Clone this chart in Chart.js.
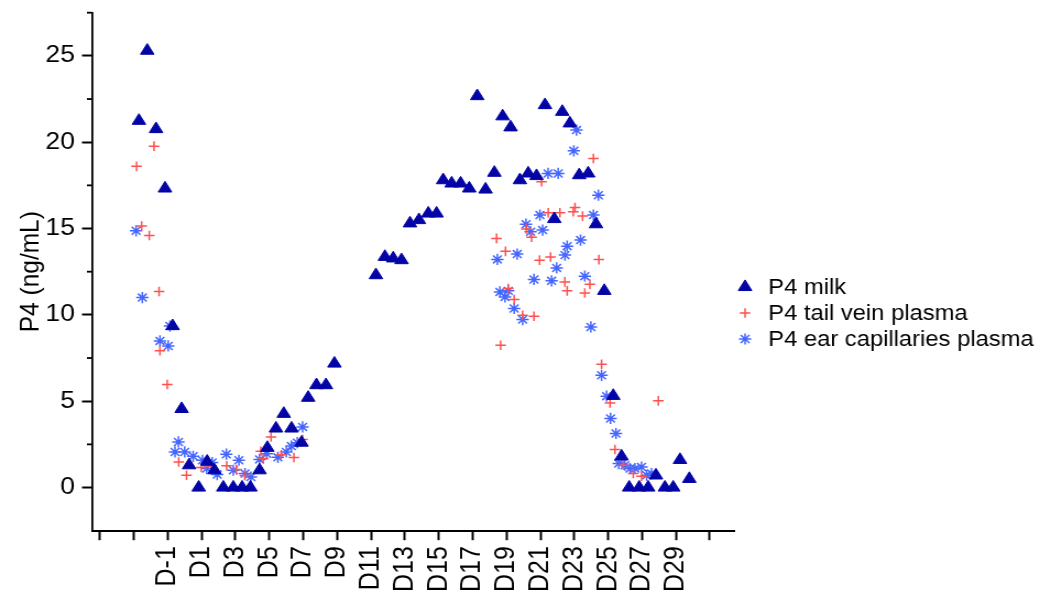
<!DOCTYPE html>
<html><head><meta charset="utf-8">
<script src="https://cdn.jsdelivr.net/npm/chart.js@4.4.1/dist/chart.umd.min.js"></script>
<style>
html,body{margin:0;padding:0;background:#fff;overflow:hidden;}
#wrap{width:945px;height:596px;transform:scaleX(1.1005291);transform-origin:0 0;}
</style></head><body>
<div id="wrap"><canvas id="c" width="945" height="596"></canvas></div>
<script>
// ---------- data (day, P4 ng/mL) ----------
const milkDays = [-2.70,-2.21,-1.69,-1.16,-0.71,-0.18,0.26,0.83,1.33,1.76,2.28,2.87,3.39,3.88,4.42,4.88,5.39,5.85,6.31,6.90,7.29,7.78,8.34,8.84,11.29,11.82,12.31,12.80,13.30,13.83,14.38,14.87,15.26,15.76,16.29,16.80,17.27,17.76,18.28,18.77,19.24,19.79,20.28,20.77,21.27,21.82,22.29,22.74,23.29,23.82,24.28,24.77,25.30,25.79,26.24,26.83,27.36,27.82,28.35,28.84,29.24,29.79];
const milkP4   = [21.24,25.3,20.76,17.32,9.35,4.55,1.29,0.0,1.5,1.0,0,0,0,0,1.0,2.3,3.42,4.27,3.42,2.6,5.2,5.93,5.93,7.18,12.3,13.36,13.27,13.17,15.3,15.49,15.87,15.87,17.8,17.61,17.61,17.32,22.67,17.26,18.23,21.5,20.86,17.8,18.19,18.04,22.15,15.55,21.76,21.09,18.09,18.19,15.25,11.39,5.31,1.8,0,0,0,0.7,0,0,1.6,0.5];

const tailDays = [-2.84,-2.54,-2.09,-1.81,-1.51,-1.46,-1.03,-0.35,0.11,0.98,1.55,2.48,3.05,3.55,4.50,4.64,5.10,5.70,6.45,6.96,18.41,18.65,18.94,19.10,19.45,19.95,20.17,20.48,20.62,20.95,21.07,21.46,21.60,22.15,22.44,22.58,22.94,23.04,23.49,23.62,23.92,24.13,24.45,24.61,25.11,25.40,25.90,26.48,26.97,27.96];
const tailP4   = [18.6,15.14,14.6,19.77,11.35,7.92,5.97,1.48,0.71,1.16,1.25,1.26,1.04,0.7,2.1,1.68,2.93,1.9,1.74,2.78,14.43,8.24,13.68,11.53,10.89,9.98,14.97,14.5,9.92,13.17,17.71,15.91,13.35,15.91,11.91,11.39,15.97,16.22,15.72,11.27,11.78,19.06,13.2,7.14,4.9,2.2,1.29,0.81,0.65,5.02];

const earDays = [-2.87,-2.50,-1.46,-0.97,-0.87,-0.57,-0.37,0.00,0.50,1.05,1.30,1.62,1.92,2.46,2.87,3.20,3.56,3.91,4.42,4.84,5.50,6.00,6.30,6.65,6.96,18.46,18.61,18.91,19.10,19.45,19.63,19.95,20.15,20.42,20.62,20.97,21.13,21.45,21.66,21.96,22.05,22.45,22.58,22.97,23.13,23.37,23.62,23.98,24.13,24.42,24.61,24.91,25.14,25.46,25.62,25.99,26.29,26.58,26.97,27.27,27.56];
const earP4   = [14.87,11.0,8.49,8.2,9.35,2.06,2.64,2.06,1.81,1.58,1.1,1.45,0.75,1.93,1.0,1.58,0.81,0.61,1.63,1.95,1.75,2.06,2.4,2.6,3.51,13.21,11.33,11.04,11.39,10.37,13.52,9.73,15.25,14.81,12.05,15.78,14.91,18.19,11.97,12.72,18.19,13.46,13.98,19.5,20.7,14.33,12.24,9.3,15.78,16.93,6.5,5.29,4.0,3.13,1.39,1.29,1.1,1.1,1.19,0.71,0.81];

const seriesNames = ['P4 milk','P4 tail vein plasma','P4 ear capillaries plasma'];
const xTickDays   = [-5,-3,-1,1,3,5,7,9,11,13,15,17,19,21,23,25,27,29,31];
const xTickLabels = ['','','D-1','D1','D3','D5','D7','D9','D11','D13','D15','D17','D19','D21','D23','D25','D27','D29',''];
const yTicks      = [0,5,10,15,20,25];
const yMinorTicks = [2.5,7.5,12.5,17.5,22.5,27.5];
const yTitle      = 'P4 (ng/mL)';

// ---------- styling ----------
const FONT = '"Liberation Sans", Arial, sans-serif';
const MILK = '#0303A6', TAIL = '#FF5050', EAR = '#4466FF';
const pts = (xs, ys) => xs.map((x, i) => ({x: x, y: ys[i]}));

const styles = [
  {pointStyle:'triangle', radius:7.1, fill:MILK, stroke:MILK, lw:1},
  {pointStyle:'cross', radius:4.8, fill:TAIL, stroke:TAIL, lw:1.5},
  {pointStyle:'star', radius:5.6, fill:EAR, stroke:EAR, lw:1.5}
];

function drawMarker(ctx, st, x, y) {
  ctx.save();
  ctx.fillStyle = st.fill; ctx.strokeStyle = st.stroke; ctx.lineWidth = st.lw;
  const r = st.radius;
  ctx.beginPath();
  if (st.pointStyle === 'triangle') {
    const T = 2 * Math.PI / 3;
    for (let k = 0; k < 3; k++) {
      const a = k * T;
      const px = x + Math.sin(a) * r, py = y - Math.cos(a) * r;
      if (k === 0) ctx.moveTo(px, py); else ctx.lineTo(px, py);
    }
    ctx.closePath(); ctx.fill(); ctx.stroke();
  } else {
    ctx.moveTo(x - r, y); ctx.lineTo(x + r, y);
    ctx.moveTo(x, y - r); ctx.lineTo(x, y + r);
    if (st.pointStyle === 'star') {
      const d = r * Math.SQRT1_2;
      ctx.moveTo(x - d, y - d); ctx.lineTo(x + d, y + d);
      ctx.moveTo(x - d, y + d); ctx.lineTo(x + d, y - d);
    }
    ctx.stroke();
  }
  ctx.restore();
}

const extras = {
  id: 'extras',
  afterDraw(chart) {
    const ctx = chart.ctx, ys = chart.scales.y, area = chart.chartArea;
    ctx.save();
    ctx.strokeStyle = '#000'; ctx.lineWidth = 1.8;
    yMinorTicks.forEach(v => {
      const p = ys.getPixelForValue(v);
      ctx.beginPath(); ctx.moveTo(area.left - 4.6, p); ctx.lineTo(area.left, p); ctx.stroke();
    });
    // legend
    const mx = 677, tx = 698, rows = [287, 313, 339];
    ctx.font = '21.6px ' + FONT; ctx.fillStyle = '#000';
    ctx.textBaseline = 'middle'; ctx.textAlign = 'left';
    seriesNames.forEach((name, i) => {
      drawMarker(ctx, styles[i], mx, rows[i]);
      ctx.fillText(name, tx, rows[i] + 1);
    });
    ctx.restore();
  }
};

const datasets = [pts(milkDays, milkP4), pts(tailDays, tailP4), pts(earDays, earP4)].map((d, i) => ({
  label: seriesNames[i],
  data: d,
  pointStyle: styles[i].pointStyle,
  pointRadius: styles[i].radius,
  pointBackgroundColor: styles[i].fill,
  pointBorderColor: styles[i].stroke,
  pointBorderWidth: styles[i].lw,
  showLine: false
}));

new Chart(document.getElementById('c'), {
  type: 'scatter',
  data: { datasets: datasets },
  plugins: [extras],
  options: {
    responsive: false,
    animation: false,
    devicePixelRatio: 1,
    events: [],
    layout: { padding: { left: 0, right: 277.1, top: 12.7, bottom: 0 } },
    plugins: { legend: { display: false }, tooltip: { enabled: false } },
    scales: {
      x: {
        type: 'linear', position: 'bottom', min: -5.47, max: 32.49,
        afterBuildTicks: s => { s.ticks = xTickDays.map(v => ({value: v})); },
        afterFit: s => { s.height = 65.3; s.paddingLeft = 0; s.paddingRight = 0; },
        border: { display: true, color: '#000', width: 2 },
        grid: { drawOnChartArea: false, drawTicks: true, tickLength: 9.5, tickWidth: 2, tickColor: '#000' },
        ticks: {
          autoSkip: false, minRotation: 90, maxRotation: 90, padding: 6,
          color: '#000', font: { family: FONT, size: 25 },
          callback: v => { const i = xTickDays.indexOf(v); return i >= 0 ? xTickLabels[i] : ''; }
        }
      },
      y: {
        type: 'linear', position: 'left', min: -2.5, max: 27.5,
        afterBuildTicks: s => { s.ticks = yTicks.map(v => ({value: v})); },
        afterFit: s => { s.width = 83.6; s.paddingTop = 0; s.paddingBottom = 0; },
        border: { display: true, color: '#000', width: 1.8 },
        grid: { drawOnChartArea: false, drawTicks: true, tickLength: 9.1, tickWidth: 2, tickColor: '#000' },
        ticks: { padding: 6.5, color: '#000', font: { family: FONT, size: 24 }, callback: v => String(v) },
        title: { display: true, text: yTitle, color: '#000', font: { family: FONT, size: 24.5 }, padding: { top: 13.2, bottom: 0 } }
      }
    }
  }
});
</script>
</body></html>
